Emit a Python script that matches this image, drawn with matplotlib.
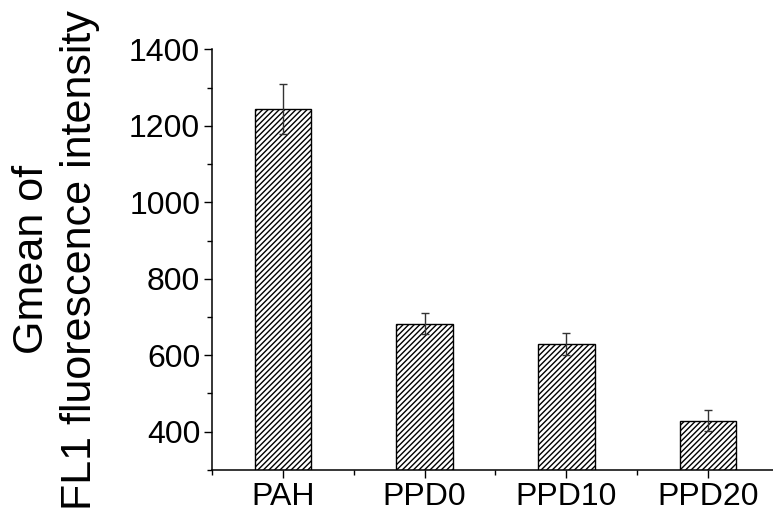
import numpy as np
import matplotlib
matplotlib.use("Agg")
from matplotlib import pyplot as plt
from matplotlib.ticker import MultipleLocator, FixedLocator

plt.rcParams['font.family'] = ['Liberation Sans', 'DejaVu Sans']
plt.rcParams['hatch.linewidth'] = 1.0

# data
samples = ['PAH', 'PPD0', 'PPD10', 'PPD20']
gmean = [1244, 683, 629, 429]
err = [65, 27, 29, 27]

fig = plt.figure(figsize=(7.73, 5.15), dpi=100)
ax = fig.add_axes([0.2743, 0.0874, 0.7257, 0.8169])

x = np.arange(len(samples))
ax.bar(x, gmean, width=0.4, color='white', edgecolor='black',
       linewidth=1.0, hatch='//////', zorder=2)
ax.errorbar(x, gmean, yerr=err, fmt='none', ecolor='#333333',
            elinewidth=1.0, capsize=3.2, capthick=1.0, zorder=3)

ax.set_xlim(-0.5, 3.458)
ax.set_ylim(300, 1400)

ax.set_xticks(x)
ax.set_xticklabels(samples)
ax.xaxis.set_minor_locator(FixedLocator(np.arange(-0.5, 4, 1.0)))
ax.yaxis.set_major_locator(MultipleLocator(200))
ax.yaxis.set_minor_locator(MultipleLocator(100))

for side in ['top', 'right']:
    ax.spines[side].set_visible(False)
for side in ['left', 'bottom']:
    ax.spines[side].set_linewidth(1.1)

ax.tick_params(which='major', direction='out', length=6, width=1.0,
               labelsize=23, pad=2.5)
ax.tick_params(which='minor', direction='out', length=3.6, width=1.0)

ax.set_ylabel('Gmean of\nFL1 fluorescence intensity', fontsize=31,
              linespacing=1.25)
ax.yaxis.set_label_coords(-0.2, 0.5)

fig.savefig('out.png', dpi=100)
